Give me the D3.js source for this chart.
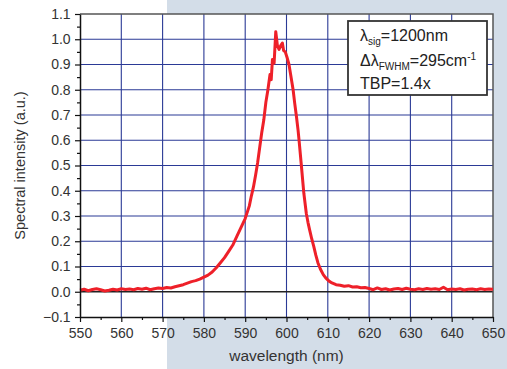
<!DOCTYPE html>
<html>
<head>
<meta charset="utf-8">
<script src="https://cdn.jsdelivr.net/npm/d3@7"></script>
<style>
  body { margin: 0; background: #fff; }
  svg { display: block; font-family: "Liberation Sans", Arial, sans-serif; }
</style>
</head>
<body>
<svg id="chart" width="507" height="369"></svg>
<script>
// spectrum (nm, a.u.)
const wavelength = [
  550, 551, 552, 553, 554, 555, 556, 557, 558, 559, 560, 561, 562, 563, 564, 565,
  566, 567, 568, 569, 570, 571, 572, 573, 574, 575, 576, 577, 578, 579, 580, 581,
  582, 583, 584, 585, 586, 587, 588, 589, 590, 591, 591.5, 592, 592.5, 593, 593.5,
  594, 594.5, 595, 595.5, 596, 596.3, 596.6, 597, 597.4, 597.8, 598.2, 598.6, 599,
  599.3, 599.7, 600.1, 600.6, 601, 601.6, 602, 602.4, 602.8, 603.1, 603.6, 604.2,
  604.8, 605.2, 605.6, 606.1, 606.6, 607.1, 607.6, 608.2, 608.9, 609.5, 610.3, 611,
  612, 613, 614, 615, 616, 617, 618, 619, 620, 621, 622, 623, 624, 625, 626, 627,
  628, 629, 630, 631, 632, 633, 634, 635, 636, 637, 638, 639, 640, 641, 642, 643,
  644, 645, 646, 647, 648, 649, 650
];
const intensity = [
  0.006, 0.010, 0.004, 0.009, 0.012, 0.008, 0.003, 0.006, 0.010, 0.007, 0.012, 0.009, 0.011, 0.008, 0.013, 0.010,
  0.014, 0.008, 0.012, 0.015, 0.013, 0.017, 0.015, 0.020, 0.024, 0.028, 0.034, 0.040, 0.044, 0.050, 0.058, 0.066,
  0.078, 0.095, 0.115, 0.135, 0.160, 0.185, 0.220, 0.255, 0.290, 0.340, 0.380, 0.415, 0.460, 0.510, 0.570,
  0.630, 0.680, 0.750, 0.800, 0.860, 0.840, 0.920, 0.905, 1.030, 0.975, 0.960, 0.975, 0.985,
  0.955, 0.950, 0.930, 0.900, 0.860, 0.800, 0.745, 0.695, 0.640, 0.590, 0.500, 0.390,
  0.310, 0.275, 0.245, 0.210, 0.180, 0.145, 0.115, 0.090, 0.068, 0.055, 0.042, 0.035,
  0.028, 0.026, 0.022, 0.024, 0.019, 0.020, 0.016, 0.017, 0.013, 0.008, 0.015, 0.009, 0.012, 0.007, 0.011, 0.013,
  0.009, 0.014, 0.010, 0.008, 0.012, 0.009, 0.013, 0.010, 0.012, 0.009, 0.018, 0.008, 0.011, 0.009, 0.012, 0.007,
  0.010, 0.011, 0.008, 0.012, 0.009, 0.011, 0.010
];
const xTicks = [550, 560, 570, 580, 590, 600, 610, 620, 630, 640, 650];
const yTicks = [-0.1, 0.0, 0.1, 0.2, 0.3, 0.4, 0.5, 0.6, 0.7, 0.8, 0.9, 1.0, 1.1];

const W = 507, H = 369;
const margin = { top: 14, right: 14, bottom: 52, left: 80 };

const svg = d3.select("#chart");

// split page background
svg.append("rect").attr("x", 167).attr("y", 0).attr("width", W - 167).attr("height", H)
  .attr("fill", "#d3dde8");

const x = d3.scaleLinear().domain([550, 650]).range([margin.left, W - margin.right]);
const y = d3.scaleLinear().domain([-0.1, 1.1]).range([H - margin.bottom, margin.top]);

// plot area
svg.append("rect")
  .attr("x", x(550)).attr("y", y(1.1))
  .attr("width", x(650) - x(550)).attr("height", y(-0.1) - y(1.1))
  .attr("fill", "#fff");

const grid = svg.append("g").attr("stroke", "#2b3a96").attr("stroke-width", 1.1);
grid.selectAll(".vg").data(xTicks.slice(1, -1)).enter().append("line")
  .attr("x1", d => x(d)).attr("x2", d => x(d))
  .attr("y1", y(1.1)).attr("y2", y(-0.1));
grid.selectAll(".hg").data(yTicks.filter(d => d > 0.05 && d < 1.05)).enter().append("line")
  .attr("x1", x(550)).attr("x2", x(650))
  .attr("y1", d => y(d)).attr("y2", d => y(d));

// zero line
svg.append("line")
  .attr("x1", x(550)).attr("x2", x(650)).attr("y1", y(0)).attr("y2", y(0))
  .attr("stroke", "#222").attr("stroke-width", 1.5);

// top and right frame
svg.append("path")
  .attr("d", `M${x(550)},${y(1.1)}H${x(650)}V${y(-0.1)}`)
  .attr("fill", "none").attr("stroke", "#555").attr("stroke-width", 1.5);

// spectrum
const line = d3.line().x(d => x(d[0])).y(d => y(d[1]));
svg.append("path")
  .datum(wavelength.map((w, i) => [w, intensity[i]]))
  .attr("d", line)
  .attr("fill", "none").attr("stroke", "#ee2029").attr("stroke-width", 3)
  .attr("stroke-linejoin", "round");

// axes
const xAxis = svg.append("g").attr("transform", `translate(0,${y(-0.1)})`)
  .call(d3.axisBottom(x).tickValues(xTicks).tickFormat(d3.format("d")).tickSize(5).tickSizeOuter(0));
svg.append("g").attr("transform", `translate(0,${y(-0.1)})`)
  .call(d3.axisBottom(x).tickValues(xTicks.slice(0, -1).map(d => d + 5)).tickFormat("").tickSize(3).tickSizeOuter(0))
  .select(".domain").remove();

const yAxis = svg.append("g").attr("transform", `translate(${x(550)},0)`)
  .call(d3.axisLeft(y).tickValues(yTicks).tickFormat(d3.format(".1f")).tickSize(5).tickSizeOuter(0));
svg.append("g").attr("transform", `translate(${x(550)},0)`)
  .call(d3.axisLeft(y).tickValues(yTicks.slice(0, -1).map(d => d + 0.05)).tickFormat("").tickSize(3).tickSizeOuter(0))
  .select(".domain").remove();

svg.selectAll(".domain").attr("stroke", "#111").attr("stroke-width", 1.5);
svg.selectAll(".tick line").attr("stroke", "#111").attr("stroke-width", 1.2);
xAxis.selectAll(".tick text").attr("font-size", 14).attr("fill", "#333").attr("dy", "0.95em");
yAxis.selectAll(".tick text").attr("font-size", 14).attr("fill", "#333").attr("dx", "-0.1em");

// axis titles
svg.append("text")
  .attr("transform", `translate(25,${(y(1.1) + y(-0.1)) / 2}) rotate(-90)`)
  .attr("text-anchor", "middle").attr("font-size", 14.5).attr("fill", "#333")
  .text("Spectral intensity (a.u.)");
svg.append("text")
  .attr("x", (x(550) + x(650)) / 2).attr("y", 361)
  .attr("text-anchor", "middle").attr("font-size", 15.5).attr("fill", "#333")
  .text("wavelength (nm)");

// annotation box
const box = svg.append("g").attr("transform", "translate(348,21)");
box.append("rect").attr("width", 139).attr("height", 74)
  .attr("fill", "#fff").attr("stroke", "#333").attr("stroke-width", 1.8);
const t = box.append("g").attr("font-size", 16).attr("fill", "#222");
const l1 = t.append("text").attr("x", 12).attr("y", 20);
l1.append("tspan").text("λ");
l1.append("tspan").attr("font-size", 10).attr("dy", 4).text("sig");
l1.append("tspan").attr("dy", -4).text("=1200nm");
const l2 = t.append("text").attr("x", 12).attr("y", 45);
l2.append("tspan").text("Δλ");
l2.append("tspan").attr("font-size", 10).attr("dy", 4).text("FWHM");
l2.append("tspan").attr("dy", -4).text("=295cm");
l2.append("tspan").attr("font-size", 10).attr("dy", -6).text("-1");
t.append("text").attr("x", 12).attr("y", 68).text("TBP=1.4x");
</script>
</body>
</html>
